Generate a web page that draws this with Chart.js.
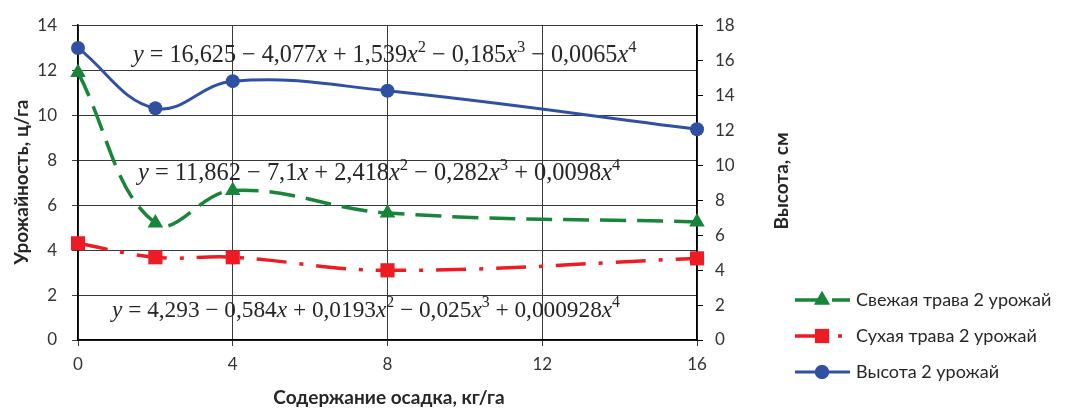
<!DOCTYPE html>
<html>
<head>
<meta charset="utf-8">
<script src="https://cdn.jsdelivr.net/npm/chart.js@4.4.1/dist/chart.umd.min.js"></script>
<style>
  html, body { margin: 0; padding: 0; background: #ffffff; }
  #wrap { width: 1066px; height: 410px; }
</style>
</head>
<body>
<div id="wrap"><canvas id="chart" width="1066" height="410"></canvas></div>
<script>
// Sludge dose, kg/ha
const doses = [0, 2, 4, 8, 16];
// Yield, c/ha (left axis)
const freshGrass = [11.9, 5.2, 6.65, 5.65, 5.25];
const dryGrass = [4.3, 3.68, 3.68, 3.1, 3.63];
// Plant height, cm (right axis)
const plantHeight = [16.7, 13.25, 14.8, 14.25, 12.05];

const xTicks = [0, 4, 8, 12, 16];
const yieldTicks = [0, 2, 4, 6, 8, 10, 12, 14];
const heightTicks = [0, 2, 4, 6, 8, 10, 12, 14, 16, 18];

const seriesNames = ['Свежая трава 2 урожай', 'Сухая трава 2 урожай', 'Высота 2 урожай'];
const xTitle = 'Содержание осадка, кг/га';
const yTitle = 'Урожайность, ц/га';
const y1Title = 'Высота, см';

// Trend-line equations: [text, style] pieces; i = italic, s = superscript
const equations = [
  [['y', 'i'], [' = 16,625 − 4,077', 'n'], ['x', 'i'], [' + 1,539', 'n'], ['x', 'i'], ['2', 's'], [' − 0,185', 'n'], ['x', 'i'], ['3', 's'], [' − 0,0065', 'n'], ['x', 'i'], ['4', 's']],
  [['y', 'i'], [' = 11,862 − 7,1', 'n'], ['x', 'i'], [' + 2,418', 'n'], ['x', 'i'], ['2', 's'], [' − 0,282', 'n'], ['x', 'i'], ['3', 's'], [' + 0,0098', 'n'], ['x', 'i'], ['4', 's']],
  [['y', 'i'], [' = 4,293 − 0,584', 'n'], ['x', 'i'], [' + 0,0193', 'n'], ['x', 'i'], ['2', 's'], [' − 0,025', 'n'], ['x', 'i'], ['3', 's'], [' + 0,000928', 'n'], ['x', 'i'], ['4', 's']]
];

const GREEN = '#17853a';
const RED = '#ed1c24';
const BLUE = '#3050a2';
const GRID = '#3a3a3a';
const TEXT = '#333333';
const SANS = 'Lato, "Open Sans", sans-serif';
const SERIF = '"Liberation Serif", "DejaVu Serif", serif';

const styles = [
  { color: GREEN, dash: [26, 11], point: 'triangle', radius: 9, width: 3.5 },
  { color: RED, dash: [30, 13, 4, 13], point: 'rect', radius: 10, width: 3.5 },
  { color: BLUE, dash: [], point: 'circle', radius: 7, width: 3 }
];

function toPoints(values) {
  return doses.map((d, i) => ({ x: d, y: values[i] }));
}

function drawEquation(ctx, parts, x, y, size) {
  let cx = x;
  ctx.textBaseline = 'alphabetic';
  ctx.textAlign = 'left';
  for (const [txt, st] of parts) {
    if (st === 's') {
      ctx.font = `${(size * 0.68).toFixed(1)}px ${SERIF}`;
      ctx.fillText(txt, cx, y - size * 0.42);
    } else {
      ctx.font = `${st === 'i' ? 'italic ' : ''}${size}px ${SERIF}`;
      ctx.fillText(txt, cx, y);
    }
    cx += ctx.measureText(txt).width;
  }
}

function drawMarker(ctx, style, x, y) {
  ctx.save();
  ctx.fillStyle = style.color;
  ctx.setLineDash([]);
  Chart.helpers.drawPoint(ctx, { pointStyle: style.point, radius: style.radius, borderWidth: 0 }, x, y);
  ctx.fill();
  ctx.restore();
}

const overlay = {
  id: 'overlay',
  afterDraw(chart) {
    const ctx = chart.ctx;
    ctx.save();
    ctx.fillStyle = '#262626';

    // equations
    drawEquation(ctx, equations[0], 133, 62, 24.2);
    drawEquation(ctx, equations[1], 138, 180, 24.4);
    drawEquation(ctx, equations[2], 112, 317, 23.3);

    // axis titles
    ctx.fillStyle = '#262626';
    ctx.font = `bold 19px ${SANS}`;
    ctx.textAlign = 'center';
    ctx.textBaseline = 'middle';
    ctx.fillText(xTitle, 389, 398);
    ctx.save();
    ctx.translate(22, 182);
    ctx.rotate(-Math.PI / 2);
    ctx.fillText(yTitle, 0, 0);
    ctx.restore();
    ctx.save();
    ctx.translate(782, 181);
    ctx.rotate(-Math.PI / 2);
    ctx.fillText(y1Title, 0, 0);
    ctx.restore();

    // legend
    const rows = [300, 336, 372];
    styles.forEach((st, i) => {
      const y = rows[i];
      ctx.save();
      ctx.strokeStyle = st.color;
      ctx.lineWidth = st.width;
      ctx.setLineDash(st.dash);
      ctx.beginPath();
      ctx.moveTo(795, y);
      ctx.lineTo(850, y);
      ctx.stroke();
      ctx.restore();
      drawMarker(ctx, st, 822, y);
      ctx.fillStyle = '#262626';
      ctx.font = `18px ${SANS}`;
      ctx.textAlign = 'left';
      ctx.textBaseline = 'middle';
      ctx.fillText(seriesNames[i], 856, y);
    });
    ctx.restore();
  }
};

const datasets = [
  { label: seriesNames[0], data: toPoints(freshGrass), yAxisID: 'y' },
  { label: seriesNames[1], data: toPoints(dryGrass), yAxisID: 'y' },
  { label: seriesNames[2], data: toPoints(plantHeight), yAxisID: 'y1' }
].map((ds, i) => Object.assign(ds, {
  showLine: true,
  borderColor: styles[i].color,
  backgroundColor: styles[i].color,
  borderWidth: styles[i].width,
  borderDash: styles[i].dash,
  tension: 0.4,
  pointStyle: styles[i].point,
  pointRadius: styles[i].radius,
  pointBorderWidth: 0,
  pointBackgroundColor: styles[i].color,
  clip: false
}));

const tickFont = { family: SANS, size: 17 };

new Chart(document.getElementById('chart'), {
  type: 'scatter',
  data: { datasets },
  options: {
    responsive: false,
    animation: false,
    devicePixelRatio: 1,
    layout: { padding: { top: 24, left: 0, right: 0, bottom: 0 } },
    plugins: { legend: { display: false }, tooltip: { enabled: false } },
    scales: {
      x: {
        type: 'linear', min: 0, max: 16,
        afterBuildTicks: s => { s.ticks = xTicks.map(v => ({ value: v })); },
        afterFit: s => { s.height = 70; },
        ticks: { color: TEXT, font: tickFont, padding: 8, maxRotation: 0 },
        grid: { color: GRID, lineWidth: 1, tickLength: 6 },
        border: { color: '#000', width: 1.5 }
      },
      y: {
        position: 'left', min: 0, max: 14,
        afterBuildTicks: s => { s.ticks = yieldTicks.map(v => ({ value: v })); },
        afterFit: s => { s.width = 78; },
        ticks: { color: TEXT, font: tickFont, padding: 15 },
        grid: { color: GRID, lineWidth: 1, tickLength: 6 },
        border: { color: '#000', width: 1.5 }
      },
      y1: {
        position: 'right', min: 0, max: 18,
        afterBuildTicks: s => { s.ticks = heightTicks.map(v => ({ value: v })); },
        afterFit: s => { s.width = 369; },
        ticks: { color: TEXT, font: tickFont, padding: 12 },
        grid: { drawOnChartArea: false, color: '#000', lineWidth: 1, tickLength: 6 },
        border: { color: '#000', width: 1.5 }
      }
    }
  },
  plugins: [overlay]
});
</script>
</body>
</html>
